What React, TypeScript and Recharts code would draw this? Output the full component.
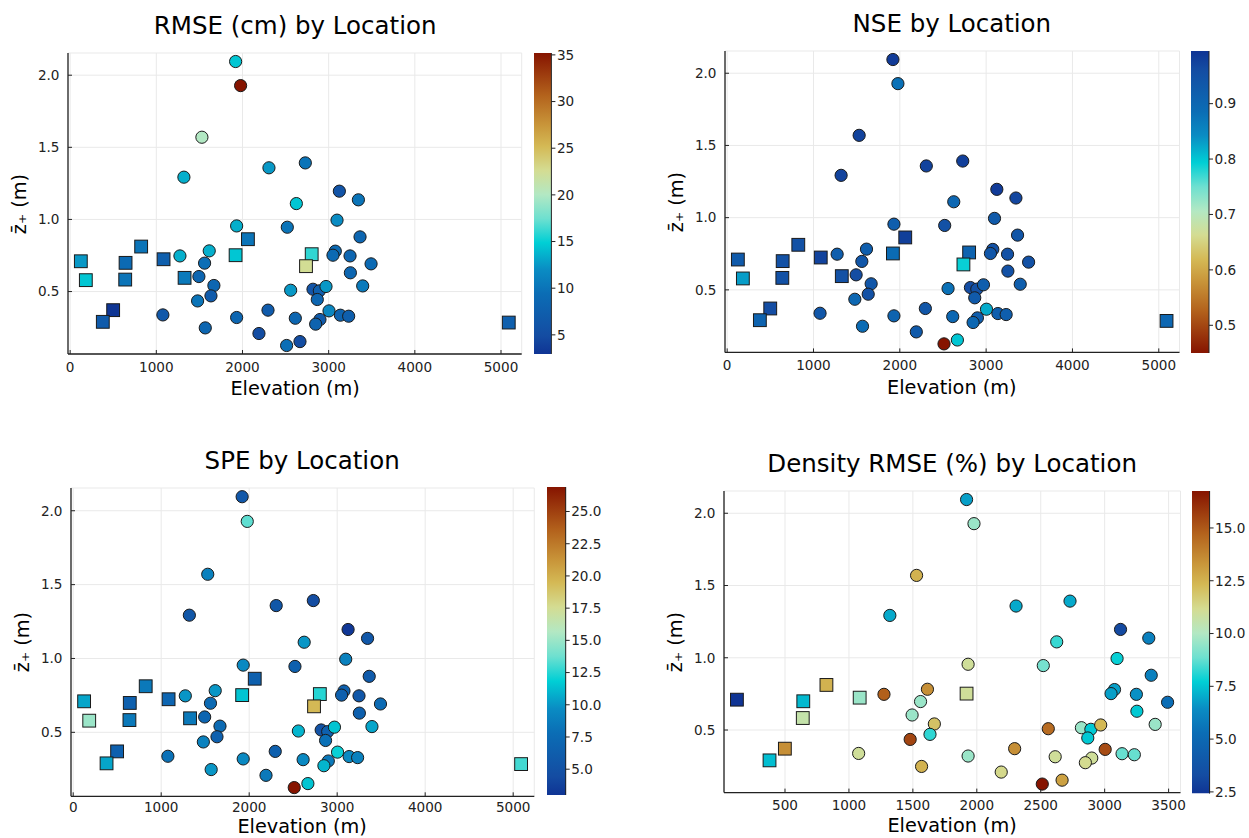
import { ScatterChart, Scatter, XAxis, YAxis, CartesianGrid, BarChart, Bar } from 'recharts';

// site locations (elevation in m, mean snow depth z+ in m)
const elevation = [
  1920, 1978, 1529, 2307, 2729, 1320, 3124, 3345, 2625, 3097,
  1932, 2520, 2063, 3364, 824, 3077, 3050, 3248, 1614, 1274,
  1920, 2803, 2737, 124, 643, 1084, 1560, 3492, 3252, 182,
  639, 1328, 1494, 1668, 1634, 1479, 2559, 2818, 2892, 2969,
  3395, 2868, 499, 379, 1076, 1932, 2296, 2613, 3004, 3136,
  3232, 2899, 2849, 1568, 2191, 2512, 2667, 5090,
];
const zPlus = [
  2.095, 1.928, 1.57, 1.358, 1.392, 1.293, 1.196, 1.136, 1.11, 0.995,
  0.955, 0.946, 0.863, 0.879, 0.812, 0.78, 0.752, 0.747, 0.782, 0.747,
  0.752, 0.759, 0.676, 0.71, 0.699, 0.724, 0.697, 0.692, 0.63, 0.579,
  0.583, 0.595, 0.604, 0.542, 0.47, 0.435, 0.509, 0.516, 0.505, 0.535,
  0.539, 0.445, 0.371, 0.29, 0.338, 0.32, 0.371, 0.315, 0.366, 0.336,
  0.329, 0.306, 0.274, 0.248, 0.209, 0.126, 0.153, 0.285,
];
// 'c' = circle site, 's' = square site
const siteType = [
  'c', 'c', 'c', 'c', 'c', 'c', 'c', 'c', 'c', 'c',
  'c', 'c', 's', 'c', 's', 'c', 'c', 'c', 'c', 'c',
  's', 's', 's', 's', 's', 's', 'c', 'c', 'c', 's',
  's', 's', 'c', 'c', 'c', 'c', 'c', 'c', 'c', 'c',
  'c', 'c', 's', 's', 'c', 'c', 'c', 'c', 'c', 'c',
  'c', 'c', 'c', 'c', 'c', 'c', 'c', 's',
];
const rmse = [
  14.5, 35.2, 20, 12.5, 10, 13.5, 6, 10, 14.5, 12,
  13.5, 10, 10, 8.5, 10, 9, 9, 8.5, 13.5, 13.5,
  14.5, 16, 22.5, 12.5, 9, 7.5, 9.5, 9, 8.5, 14.5,
  10, 10.5, 8.5, 8.5, 7, 10, 12.5, 6, 7.5, 12.5,
  10.5, 8.5, 3, 7, 6.5, 8.5, 7, 8.5, 11.5, 8,
  7.5, 7, 8, 8.5, 5, 9.5, 5, 7.5,
];
const nse = [
  0.985, 0.88, 0.975, 0.975, 0.98, 0.975, 0.985, 0.97, 0.9, 0.93,
  0.92, 0.95, 0.98, 0.94, 0.95, 0.95, 0.94, 0.95, 0.92, 0.92,
  0.89, 0.91, 0.79, 0.93, 0.95, 0.975, 0.94, 0.95, 0.95, 0.83,
  0.95, 0.95, 0.96, 0.94, 0.95, 0.9, 0.88, 0.96, 0.95, 0.92,
  0.92, 0.93, 0.96, 0.91, 0.94, 0.91, 0.94, 0.9, 0.82, 0.92,
  0.92, 0.92, 0.9, 0.89, 0.93, 0.45, 0.8, 0.9,
];
const spe = [
  5.5, 13.5, 9, 5.5, 4.5, 5.5, 3.2, 5.5, 10, 9,
  9.5, 6.5, 6.5, 6, 8.5, 6.5, 6.5, 5.5, 10, 10,
  11.5, 12.5, 19.5, 10.5, 6.5, 7, 7.5, 7.5, 6.5, 15,
  8.5, 8.5, 7, 7.5, 6.5, 9, 11, 5, 6.5, 11.5,
  10.5, 8, 6.5, 10.5, 8, 9.5, 6.5, 9.5, 12, 9.5,
  9, 8.5, 11, 10, 8.5, 26.9, 11.5, 13,
];
const densityRmse = [
  6.8, 9.6, 12.5, 7, 7, 7, 3.2, 6, 8.3, 7.8,
  11, 9, null, 6, 12.5, 6.8, 6.8, 6.5, 13.5, 14.8,
  11, null, null, 2.42, 7.3, 9.6, 9.6, 5.3, 7.6, null,
  10.6, null, 9.6, 12, 8.2, 15.5, 14.5, 9.6, 7.6, 12.3,
  9.6, 7.6, 13.5, 7.4, 11, 9.6, 13.5, 11, 15.3, 8.8,
  8.8, 11, 11.2, 12.5, 11.3, 16.75, 13, null,
];

const xTicksAll = [0, 1000, 2000, 3000, 4000, 5000];
const xTicksDensity = [500, 1000, 1500, 2000, 2500, 3000, 3500];
const yTicks = [0.5, 1.0, 1.5, 2.0];
const rmseTicks = [5, 10, 15, 20, 25, 30, 35];
const nseTicks = [0.5, 0.6, 0.7, 0.8, 0.9];
const speTicks = [5, 7.5, 10, 12.5, 15, 17.5, 20, 22.5, 25];
const densityTicks = [2.5, 5, 7.5, 10, 12.5, 15];

// roma-like colormap, 0 = blue end, 1 = red end
const STOPS: [number, string][] = [
  [0.0, '#0f3494'],
  [0.06, '#144ca2'],
  [0.2, '#0b6db5'],
  [0.28, '#0a8cc3'],
  [0.37, '#00cfd5'],
  [0.45, '#6ee0d0'],
  [0.53, '#b3e8c3'],
  [0.61, '#d4dc92'],
  [0.69, '#d4b955'],
  [0.76, '#c9963a'],
  [0.86, '#b3621c'],
  [1.0, '#861400'],
];

function hex(c: string) {
  return [1, 3, 5].map((i) => parseInt(c.slice(i, i + 2), 16));
}

function cmap(t: number) {
  t = Math.max(0, Math.min(1, t));
  for (let i = 1; i < STOPS.length; i++) {
    const [t1, c1] = STOPS[i];
    if (t <= t1) {
      const [t0, c0] = STOPS[i - 1];
      const f = (t - t0) / (t1 - t0);
      const a = hex(c0);
      const b = hex(c1);
      const m = a.map((v, k) => Math.round(v + (b[k] - v) * f));
      return `rgb(${m[0]},${m[1]},${m[2]})`;
    }
  }
  return STOPS[STOPS.length - 1][1];
}

const FONT = '"DejaVu Sans", sans-serif';
const INK = '#222';
const TICK = 13.6;
const yDomain: [number, number] = [0.067, 2.154];

type Box = { x: number; y: number; w: number; h: number };

type PanelProps = {
  id: string;
  title: string;
  values: (number | null)[];
  plot: Box;
  xDomain: [number, number];
  xTicks: number[];
  cb: Box;
  cbDomain: [number, number];
  cbTicks: number[];
  cbFmt: (v: number) => string;
  reversed?: boolean;
  xLabelGap?: number;
  xTickMargin?: number;
};

function Panel(p: PanelProps) {
  const [lo, hi] = p.cbDomain;
  const colorOf = (v: number) => cmap(p.reversed ? (hi - v) / (hi - lo) : (v - lo) / (hi - lo));
  const pts = elevation
    .map((e, i) => ({ x: e, y: zPlus[i], v: p.values[i], kind: siteType[i] }))
    .filter((d) => d.v !== null);
  const circles = pts.filter((d) => d.kind === 'c');
  const squares = pts.filter((d) => d.kind === 's');

  const YW = 60, MT = 10, XH = 30, RM = 20;
  const CBM = 10; // room above/below the colorbar for its end labels
  const cx = p.plot.x + p.plot.w / 2;
  const cy = p.plot.y + p.plot.h / 2;
  const xLabelGap = p.xLabelGap ?? 35;

  const circleShape = (props: any) => (
    <circle cx={props.cx} cy={props.cy} r={6.1} fill={colorOf(props.payload.v)} stroke="#1a1a1a" strokeWidth={1} />
  );
  const squareShape = (props: any) => (
    <rect x={props.cx - 6.4} y={props.cy - 6.4} width={12.8} height={12.8} fill={colorOf(props.payload.v)} stroke="#1a1a1a" strokeWidth={1} />
  );

  return (
    <>
      <div style={{ position: 'absolute', left: cx - 300, top: p.plot.y - 27 - 16, width: 600, lineHeight: '32px', textAlign: 'center', fontSize: 24.5, color: '#000' }}>
        {p.title}
      </div>
      <div style={{ position: 'absolute', left: cx - 150, top: p.plot.y + p.plot.h + xLabelGap - 11, width: 300, lineHeight: '22px', textAlign: 'center', fontSize: 19.3, color: '#000' }}>
        Elevation (m)
      </div>
      <div style={{ position: 'absolute', left: p.plot.x - 48 - 100, top: cy - 13, width: 200, lineHeight: '26px', textAlign: 'center', fontSize: 19.3, color: '#000', transform: 'rotate(-90deg)' }}>
        {'z\u0304\u208A (m)'}
      </div>
      <div style={{ position: 'absolute', left: p.plot.x - YW, top: p.plot.y - MT }}>
        <ScatterChart width={YW + p.plot.w + RM} height={MT + p.plot.h + XH} margin={{ top: MT, right: RM, bottom: 0, left: 0 }}>
          <CartesianGrid stroke="#e9e9e9" strokeWidth={1} />
          <XAxis
            type="number"
            dataKey="x"
            domain={p.xDomain}
            ticks={p.xTicks}
            interval={0}
            allowDataOverflow
            height={XH}
            tickSize={-4}
            tickMargin={p.xTickMargin ?? 12}
            axisLine={{ stroke: INK, strokeWidth: 1.3 }}
            tickLine={{ stroke: INK }}
            tick={{ fontSize: TICK, fill: INK }}
          />
          <YAxis
            type="number"
            dataKey="y"
            domain={yDomain}
            ticks={yTicks}
            interval={0}
            allowDataOverflow
            width={YW}
            tickSize={-4}
            tickMargin={12.5}
            tickFormatter={(v: number) => v.toFixed(1)}
            axisLine={{ stroke: INK, strokeWidth: 1.3 }}
            tickLine={{ stroke: INK }}
            tick={{ fontSize: TICK, fill: INK }}
          />
          <Scatter data={squares} shape={squareShape} isAnimationActive={false} />
          <Scatter data={circles} shape={circleShape} isAnimationActive={false} />
        </ScatterChart>
      </div>
      <div style={{ position: 'absolute', left: p.cb.x, top: p.cb.y - CBM }}>
        <BarChart
          width={p.cb.w + 50}
          height={p.cb.h + 2 * CBM}
          data={[{ k: 'bar', range: [lo, hi] }]}
          margin={{ top: CBM, right: 0, bottom: CBM, left: 0 }}
          barCategoryGap={0}
          barGap={0}
        >
          <XAxis dataKey="k" hide />
          <YAxis
            orientation="right"
            type="number"
            domain={p.cbDomain}
            ticks={p.cbTicks}
            interval={0}
            allowDataOverflow
            width={50}
            tickSize={4}
            tickMargin={1.5}
            tickFormatter={p.cbFmt}
            axisLine={{ stroke: INK, strokeWidth: 1 }}
            tickLine={{ stroke: INK }}
            tick={{ fontSize: TICK, fill: INK }}
          />
          <Bar dataKey="range" fill={`url(#grad-${p.id})`} isAnimationActive={false} />
        </BarChart>
      </div>
    </>
  );
}

function Gradients() {
  const make = (id: string, reversed: boolean) => (
    <linearGradient id={id} x1="0" y1={reversed ? '0' : '1'} x2="0" y2={reversed ? '1' : '0'}>
      {STOPS.map(([o, c]) => (
        <stop key={o} offset={o} stopColor={c} />
      ))}
    </linearGradient>
  );
  return (
    <svg width={0} height={0} style={{ position: 'absolute' }}>
      <defs>
        {make('grad-rmse', false)}
        {make('grad-nse', true)}
        {make('grad-spe', false)}
        {make('grad-dens', false)}
      </defs>
    </svg>
  );
}

export default function App() {
  const fmt0 = (v: number) => String(v);
  const fmt1 = (v: number) => v.toFixed(1);
  return (
    <div style={{ position: 'absolute', left: 0, top: 0, width: 1249, height: 838, background: '#fff', fontFamily: FONT, overflow: 'hidden' }}>
      <Gradients />
      <Panel
        id="rmse"
        title="RMSE (cm) by Location"
        values={rmse}
        plot={{ x: 68.3, y: 53, w: 453.7, h: 301 }}
        xDomain={[-25, 5240]}
        xTicks={xTicksAll}
        cb={{ x: 534.3, y: 53.3, w: 17.4, h: 301 }}
        cbDomain={[2.95, 35.2]}
        cbTicks={rmseTicks}
        cbFmt={fmt0}
      />
      <Panel
        id="nse"
        title="NSE by Location"
        values={nse}
        plot={{ x: 724.6, y: 51.1, w: 454.5, h: 301.4 }}
        xDomain={[-25, 5240]}
        xTicks={xTicksAll}
        cb={{ x: 1191, y: 51, w: 18, h: 302 }}
        cbDomain={[0.45, 0.995]}
        cbTicks={nseTicks}
        cbFmt={fmt1}
        reversed
      />
      <Panel
        id="spe"
        title="SPE by Location"
        values={spe}
        plot={{ x: 70.5, y: 488, w: 463.3, h: 308.3 }}
        xDomain={[-25, 5240]}
        xTicks={xTicksAll}
        cb={{ x: 547.3, y: 487.3, w: 18.7, h: 308 }}
        cbDomain={[3.0, 26.9]}
        cbTicks={speTicks}
        cbFmt={fmt1}
        xLabelGap={30.6}
        xTickMargin={10.5}
      />
      <Panel
        id="dens"
        title="Density RMSE (%) by Location"
        values={densityRmse}
        plot={{ x: 723.9, y: 491, w: 456.5, h: 301.6 }}
        xDomain={[23, 3593]}
        xTicks={xTicksDensity}
        cb={{ x: 1191.7, y: 490.7, w: 17.6, h: 302.6 }}
        cbDomain={[2.42, 16.75]}
        cbTicks={densityTicks}
        cbFmt={fmt1}
        xLabelGap={33}
      />
    </div>
  );
}
